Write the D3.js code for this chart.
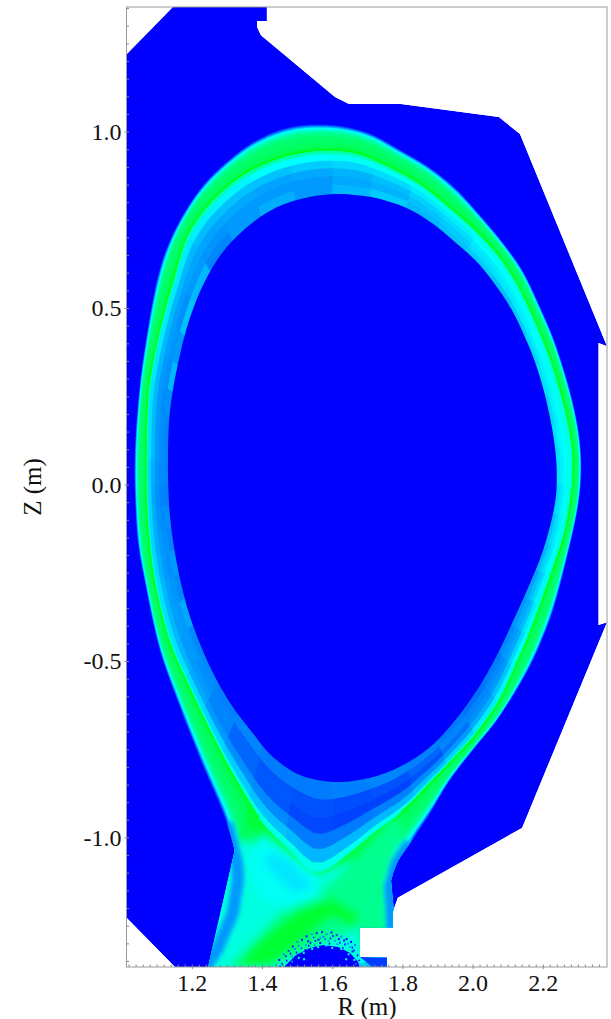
<!DOCTYPE html>
<html>
<head>
<meta charset="utf-8">
<script src="https://cdn.jsdelivr.net/npm/d3@7"></script>
<style>
  html, body { margin: 0; padding: 0; background: #fff; }
  svg { display: block; }
</style>
</head>
<body>
<div id="plot"></div>
<script>
// Axis ranges and tick labels (metres)
const rRange = [1.014, 2.383];
const zRange = [-1.367, 1.353];
const rTicks = [1.2, 1.4, 1.6, 1.8, 2.0, 2.2];
const zTicks = [-1.0, -0.5, 0.0, 0.5, 1.0];

// Wall of the computational domain [R, Z]
const wall = [[1.146,1.353],[1.414,1.353],[1.414,1.313],[1.386,1.313],[1.386,1.296],[1.397,1.273],
  [1.608,1.098],[1.648,1.078],[1.796,1.078],[2.075,1.041],[2.135,0.993],[2.383,0.392],[2.359,0.401],
  [2.359,-0.398],[2.383,-0.390],[2.141,-0.973],[1.787,-1.171],[1.773,-1.211],[1.773,-1.256],[1.679,-1.256],
  [1.679,-1.339],[1.756,-1.340],[1.756,-1.367],[1.152,-1.367],[1.015,-1.228],[1.015,1.220]];

// Outer limit of the bright region
const outerEdge = [[1.238,-1.370],[1.272,-1.319],[1.317,-1.214],[1.332,-1.120],[1.329,-1.072],[1.300,-0.959],
  [1.229,-0.789],[1.166,-0.630],[1.109,-0.469],[1.067,-0.279],[1.047,-0.166],[1.038,-0.024],[1.038,0.098],
  [1.047,0.231],[1.061,0.353],[1.101,0.579],[1.129,0.670],[1.172,0.758],[1.229,0.843],[1.300,0.914],
  [1.386,0.976],[1.485,1.013],[1.599,1.018],[1.702,0.996],[1.793,0.948],[1.879,0.897],[1.950,0.840],
  [2.021,0.763],[2.087,0.684],[2.141,0.608],[2.192,0.503],[2.235,0.401],[2.286,0.231],[2.306,0.118],
  [2.309,0.021],[2.300,-0.064],[2.272,-0.194],[2.232,-0.347],[2.201,-0.432],[2.158,-0.525],[2.070,-0.667],
  [2.001,-0.752],[1.936,-0.837],[1.879,-0.931],[1.822,-1.016],[1.785,-1.072],[1.765,-1.140],[1.770,-1.211],
  [1.773,-1.370]];

// Separatrix, the peak green line
const separatrix = [[1.554,-1.098],[1.480,-1.035],[1.403,-0.959],[1.337,-0.857],[1.289,-0.772],[1.232,-0.659],
  [1.186,-0.562],[1.146,-0.474],[1.115,-0.375],[1.089,-0.251],[1.075,-0.129],[1.070,-0.024],[1.070,0.098],
  [1.075,0.259],[1.095,0.381],[1.118,0.480],[1.144,0.571],[1.189,0.712],[1.258,0.806],[1.343,0.877],
  [1.429,0.919],[1.514,0.942],[1.599,0.948],[1.674,0.939],[1.773,0.897],[1.859,0.848],[1.936,0.786],
  [2.001,0.729],[2.070,0.656],[2.127,0.571],[2.178,0.466],[2.221,0.361],[2.263,0.220],[2.286,0.098],
  [2.286,0.013],[2.280,-0.044],[2.263,-0.137],[2.226,-0.251],[2.164,-0.421],[2.127,-0.506],[2.078,-0.610],
  [2.013,-0.704],[1.944,-0.780],[1.879,-0.846],[1.813,-0.914],[1.716,-0.987],[1.651,-1.041]];

// Edge of the empty core
const coreEdge = [[1.608,-0.843],[1.508,-0.823],[1.431,-0.772],[1.366,-0.695],[1.309,-0.619],[1.252,-0.517],
  [1.195,-0.375],[1.161,-0.242],[1.138,-0.092],[1.132,0.061],[1.138,0.211],[1.166,0.367],[1.195,0.473],
  [1.232,0.565],[1.286,0.656],[1.357,0.729],[1.437,0.783],[1.531,0.814],[1.608,0.823],[1.671,0.820],
  [1.736,0.809],[1.813,0.783],[1.884,0.741],[1.950,0.687],[2.013,0.630],[2.070,0.559],[2.115,0.489],
  [2.149,0.418],[2.178,0.347],[2.206,0.254],[2.232,0.126],[2.240,0.033],[2.235,-0.052],[2.201,-0.186],
  [2.155,-0.300],[2.121,-0.375],[2.070,-0.483],[2.013,-0.582],[1.944,-0.676],[1.879,-0.744],[1.802,-0.795],
  [1.716,-0.829]];

// Contour levels between outerEdge (0) and separatrix (1), with their values
const outerLevels = [0, 0.04, 0.08, 0.12, 0.17, 0.24, 0.32, 0.45, 0.7, 0.9];
const outerValues = [0.14, 0.26, 0.38, 0.5, 0.58, 0.66, 0.74, 0.79, 0.82, 0.88];

// Mesh between separatrix (0) and core (1): one row per 7.5 degree sector
const meshRows = [0, 0.1, 0.25, 0.42, 0.6, 0.8, 1];
const meshValues = [
  [.66,.56,.52,.5,.47,.45],[.66,.56,.52,.5,.48,.44],[.65,.55,.52,.5,.47,.42],[.65,.55,.52,.49,.47,.44],
  [.65,.55,.51,.5,.46,.42],[.65,.55,.5,.48,.46,.4],[.65,.54,.5,.47,.45,.38],[.66,.54,.5,.46,.44,.4],
  [.66,.53,.47,.43,.4,.38],[.66,.53,.46,.41,.38,.36],[.66,.52,.43,.37,.35,.4],[.66,.52,.42,.35,.33,.36],
  [.66,.5,.4,.33,.3,.3],[.66,.5,.38,.32,.3,.34],[.64,.48,.38,.33,.3,.3],[.64,.47,.37,.32,.29,.26],
  [.63,.46,.36,.32,.3,.36],[.62,.46,.36,.31,.28,.38],[.62,.46,.36,.31,.29,.3],[.6,.45,.36,.3,.28,.36],
  [.6,.44,.36,.3,.27,.28],[.58,.44,.36,.3,.28,.26],[.58,.44,.36,.3,.28,.26],[.58,.42,.34,.29,.27,.26],
  [.58,.42,.33,.28,.26,.25],[.58,.42,.34,.29,.27,.28],[.58,.42,.34,.3,.28,.26],[.58,.43,.35,.3,.28,.3],
  [.58,.44,.36,.31,.29,.27],[.58,.44,.36,.31,.3,.33],[.58,.44,.35,.3,.3,.27],[.58,.43,.33,.3,.28,.27],
  [.56,.42,.3,.26,.26,.25],[.55,.4,.28,.2,.2,.26],[.55,.38,.27,.17,.17,.24],[.54,.36,.24,.14,.16,.24],
  [.53,.36,.24,.13,.15,.25],[.53,.36,.25,.13,.16,.26],[.54,.38,.27,.16,.2,.25],[.56,.42,.3,.22,.26,.24],
  [.6,.46,.34,.28,.26,.22],[.6,.48,.38,.3,.27,.24],[.62,.5,.42,.33,.3,.27],[.63,.52,.45,.37,.33,.3],
  [.65,.54,.48,.42,.37,.32],[.66,.55,.5,.45,.41,.36],[.66,.56,.51,.47,.43,.38],[.66,.56,.52,.49,.45,.42]
];

// Patches under the X-point, painted in this order
const legPatches = [
  { value: 0.56, points: [[1.28,-1.0],[1.437,-1.02],[1.554,-1.106],[1.651,-1.064],[1.85,-1.0],[1.85,-1.256],[1.679,-1.256],[1.679,-1.39],[1.18,-1.39],[1.25,-1.15]] },
  { value: 0.72, points: [[1.30,-1.37],[1.508,-1.15],[1.594,-1.13],[1.779,-0.94],[1.80,-0.98],[1.755,-1.12],[1.76,-1.256],[1.679,-1.256],[1.636,-1.276],[1.423,-1.37]] },
  { value: 0.9, points: [[1.325,-1.37],[1.42,-1.37],[1.60,-1.225],[1.66,-1.256],[1.68,-1.22],[1.60,-1.17],[1.50,-1.205],[1.38,-1.30]] },
  { value: 0.52, points: [[1.36,-1.064],[1.4,-0.985],[1.554,-1.098],[1.571,-1.163],[1.465,-1.205],[1.385,-1.165]] },
  { value: 0.45, points: [[1.423,-1.04],[1.480,-1.07],[1.542,-1.134],[1.494,-1.16],[1.451,-1.12],[1.405,-1.07]] }
];

// Dome of low values on the floor, its noisy rim, and the wedge beside the notch
const dome = [[1.460,-1.37],[1.497,-1.333],[1.537,-1.313],[1.574,-1.305],[1.617,-1.31],[1.651,-1.327],[1.674,-1.353],[1.679,-1.37]];
const domeSpecks = [[1.441,-1.362],[1.449,-1.347],[1.458,-1.358],[1.462,-1.331],[1.471,-1.349],[1.476,-1.322],[1.487,-1.337],
  [1.488,-1.309],[1.499,-1.326],[1.501,-1.296],[1.513,-1.315],[1.514,-1.29],[1.526,-1.305],[1.527,-1.28],[1.539,-1.299],
  [1.542,-1.275],[1.553,-1.293],[1.556,-1.271],[1.567,-1.284],[1.571,-1.268],[1.581,-1.289],[1.584,-1.274],[1.596,-1.286],
  [1.598,-1.269],[1.609,-1.293],[1.613,-1.277],[1.623,-1.298],[1.626,-1.281],[1.637,-1.303],[1.641,-1.288],[1.651,-1.311],
  [1.654,-1.296],[1.663,-1.32],[1.665,-1.305],[1.673,-1.334],[1.677,-1.349],[1.668,-1.358],[1.452,-1.366],[1.477,-1.363],
  [1.486,-1.352],[1.509,-1.331],[1.524,-1.319],[1.551,-1.306],[1.566,-1.299],[1.593,-1.301],[1.615,-1.303],[1.631,-1.313],
  [1.658,-1.323],[1.505,-1.307],[1.532,-1.294],[1.548,-1.284],[1.575,-1.281],[1.603,-1.279],[1.619,-1.288],[1.646,-1.301],
  [1.468,-1.337],[1.482,-1.329],[1.494,-1.316],[1.534,-1.307],[1.561,-1.29],[1.59,-1.294],[1.634,-1.292],[1.658,-1.312]];
const domeGaps = [[1.505,-1.341],[1.519,-1.327],[1.543,-1.316],[1.56,-1.311],[1.583,-1.306],[1.6,-1.313],[1.626,-1.316],[1.647,-1.331],[1.663,-1.347],[1.52,-1.345],[1.64,-1.345]];
const wedge = [[1.679,-1.339],[1.756,-1.340],[1.756,-1.367],[1.715,-1.367]];

// Colour map: blue, cyan, green
const color = d3.scaleLinear().domain([0, 0.5, 1]).range(["#0000ff", "#00ffff", "#00ff00"]);

// Create the SVG container
const svg = d3.select("#plot")
  .append("svg")
  .attr("width", 611)
  .attr("height", 1019);

const x = d3.scaleLinear().domain(rRange).range([126.5, 607]);
const y = d3.scaleLinear().domain(zRange).range([967, 7]);

const defs = svg.append("defs");
const toPath = d3.line().x(d => x(d[0])).y(d => y(d[1])).curve(d3.curveLinearClosed);
const toOpenPath = d3.line().x(d => x(d[0])).y(d => y(d[1]));

function addBlur(id, amount) {
  defs.append("filter").attr("id", id)
    .attr("x", "-20%").attr("y", "-20%").attr("width", "140%").attr("height", "140%")
    .append("feGaussianBlur").attr("stdDeviation", amount);
}
addBlur("soft", 4);
addBlur("edge-soft", 2);
addBlur("slight", 0.6);

defs.append("clipPath").attr("id", "wall-clip")
  .append("path").attr("d", toPath(wall));

const plot = svg.append("g").attr("clip-path", "url(#wall-clip)");

plot.append("path").attr("d", toPath(wall)).attr("fill", "#0000ff");

// Round off the read-off polylines with a spline, then sample it densely
function densify(poly) {
  const spline = d3.line()
    .x(d => d[0] * 1000).y(d => d[1] * 1000)
    .curve(d3.curveCatmullRomClosed.alpha(0.5));
  const temp = svg.append("path").attr("d", spline(poly));
  const node = temp.node();
  const total = node.getTotalLength();
  const pts = d3.range(0, total, 6).map(s => {
    const p = node.getPointAtLength(s);
    return [p.x / 1000, p.y / 1000];
  });
  temp.remove();
  return pts;
}

// Contours are resampled along spokes from the middle of the plasma
const center = [1.6, 0];
function rayRadius(poly, deg) {
  const a = deg * Math.PI / 180;
  const dx = Math.cos(a), dy = Math.sin(a);
  let best = 0;
  poly.forEach((p, i) => {
    const q = poly[(i + 1) % poly.length];
    const ex = q[0] - p[0], ey = q[1] - p[1];
    const det = dx * ey - dy * ex;
    if (Math.abs(det) < 1e-9) return;
    const wx = p[0] - center[0], wy = p[1] - center[1];
    const t = (wx * ey - wy * ex) / det;
    const u = (wx * dy - wy * dx) / det;
    if (t > best && u >= 0 && u <= 1) best = t;
  });
  return best;
}

const angles = d3.range(0, 360, 0.5);
function radiiOf(poly) {
  const dense = densify(poly);
  return angles.map(deg => rayRadius(dense, deg));
}
const outerR = radiiOf(outerEdge);
const sepR = radiiOf(separatrix);
const coreR = radiiOf(coreEdge);

function pointAt(deg, r) {
  const a = deg * Math.PI / 180;
  return [center[0] + r * Math.cos(a), center[1] + r * Math.sin(a)];
}
function ringAt(radii) {
  return angles.map((deg, i) => pointAt(deg, radii[i]));
}

defs.append("clipPath").attr("id", "outer-clip")
  .append("path").attr("d", toPath(ringAt(outerR)));

// Outer band, painted from the edge inwards
const outerBand = plot.append("g").attr("filter", "url(#slight)");
outerLevels.forEach((f, i) => {
  const ring = angles.map((deg, j) => pointAt(deg, outerR[j] + (sepR[j] - outerR[j]) * f));
  outerBand.append("path")
    .attr("d", toPath(ring))
    .attr("fill", color(outerValues[i]));
});

// Patches below the X-point
const legClip = plot.append("g").attr("clip-path", "url(#outer-clip)");
const legs = legClip.append("g").attr("filter", "url(#soft)");
legPatches.forEach(p => {
  legs.append("path").attr("d", toPath(p.points)).attr("fill", color(p.value));
});

// Fading rim along both legs
const rim = legClip.append("g").attr("filter", "url(#edge-soft)");
[outerEdge.slice(0, 6), outerEdge.slice(44)].forEach(part => {
  rim.append("path")
    .attr("d", toOpenPath(part))
    .attr("fill", "none")
    .attr("stroke", color(0.3))
    .attr("stroke-width", 12);
});

// Inner band as mesh cells
meshValues.forEach((row, k) => {
  const steps = d3.range(k * 15, (k + 1) * 15 + 1, 3);
  row.forEach((v, i) => {
    const at = (step, f) => {
      const j = step % angles.length;
      return pointAt(angles[j], sepR[j] + (coreR[j] - sepR[j]) * f);
    };
    const cell = steps.map(s => at(s, meshRows[i]))
      .concat(steps.slice().reverse().map(s => at(s, meshRows[i + 1])));
    plot.append("path")
      .attr("d", toPath(cell))
      .attr("fill", color(v))
      .attr("stroke", color(v))
      .attr("stroke-width", 0.6);
  });
});

// Peak line on the separatrix, left open around the X-point
const sepRing = ringAt(sepR);
plot.append("path")
  .attr("d", toOpenPath(sepRing.slice(0, 2 * 258)))
  .attr("fill", "none")
  .attr("stroke", color(0.96))
  .attr("stroke-width", 1.6);
plot.append("path")
  .attr("d", toOpenPath(sepRing.slice(2 * 282)))
  .attr("fill", "none")
  .attr("stroke", color(0.96))
  .attr("stroke-width", 1.6);

// Empty core
plot.append("path").attr("d", toPath(ringAt(coreR))).attr("fill", "#0000ff");

// Floor details
plot.append("path").attr("d", toPath(dome)).attr("fill", "#0000ff");
plot.selectAll(".speck")
  .data(domeSpecks)
  .enter()
  .append("rect")
  .attr("class", "speck")
  .attr("x", d => x(d[0]) - 1)
  .attr("y", d => y(d[1]) - 1)
  .attr("width", (d, i) => i % 2 ? 2 : 1.5)
  .attr("height", (d, i) => i % 5 ? 2 : 1.5)
  .attr("fill", (d, i) => color(i % 3 === 0 ? 0.25 : 0.04));
plot.selectAll(".gap")
  .data(domeGaps)
  .enter()
  .append("rect")
  .attr("class", "gap")
  .attr("x", d => x(d[0]) - 1)
  .attr("y", d => y(d[1]) - 1)
  .attr("width", 2)
  .attr("height", 2)
  .attr("fill", color(0.55));
plot.append("path").attr("d", toPath(wedge)).attr("fill", color(0.12));

// Frame
svg.append("rect")
  .attr("x", x(rRange[0]))
  .attr("y", y(zRange[1]))
  .attr("width", x(rRange[1]) - x(rRange[0]))
  .attr("height", y(zRange[0]) - y(zRange[1]))
  .attr("fill", "none")
  .attr("stroke", "#999");

// Axes: short inner minor ticks, outward major ticks
const minorR = d3.range(1.02, 2.38, 0.02);
const minorZ = d3.range(-1.35, 1.351, 0.05);

function styleAxis(g) {
  g.select(".domain").remove();
  g.selectAll("line").attr("stroke", "#888");
}

svg.append("g")
  .attr("transform", `translate(0,${y(zRange[0])})`)
  .call(d3.axisBottom(x).tickValues(minorR).tickSize(-2.5).tickFormat(""))
  .call(styleAxis);
svg.append("g")
  .attr("transform", `translate(${x(rRange[0])},0)`)
  .call(d3.axisLeft(y).tickValues(minorZ).tickSize(-2.5).tickFormat(""))
  .call(styleAxis);

const labelFont = "'Liberation Serif', serif";

svg.append("g")
  .attr("transform", `translate(0,${y(zRange[0])})`)
  .call(d3.axisBottom(x).tickValues(rTicks).tickSize(2).tickPadding(5).tickFormat(d3.format(".1f")))
  .call(styleAxis)
  .selectAll("text")
  .attr("fill", "#111")
  .style("font-family", labelFont)
  .style("font-size", "24px");

svg.append("g")
  .attr("transform", `translate(${x(rRange[0])},0)`)
  .call(d3.axisLeft(y).tickValues(zTicks).tickSize(2).tickPadding(3).tickFormat(d => d.toFixed(1)))
  .call(styleAxis)
  .selectAll("text")
  .attr("fill", "#111")
  .style("font-family", labelFont)
  .style("font-size", "24px");

// Add x-axis label
svg.append("text")
  .attr("x", 367)
  .attr("y", 1015)
  .attr("text-anchor", "middle")
  .attr("fill", "#111")
  .style("font-family", labelFont)
  .style("font-size", "25px")
  .text("R (m)");

// Add y-axis label
svg.append("text")
  .attr("transform", "rotate(-90)")
  .attr("x", -487)
  .attr("y", 41)
  .attr("text-anchor", "middle")
  .attr("fill", "#111")
  .style("font-family", labelFont)
  .style("font-size", "25px")
  .text("Z (m)");
</script>
</body>
</html>
